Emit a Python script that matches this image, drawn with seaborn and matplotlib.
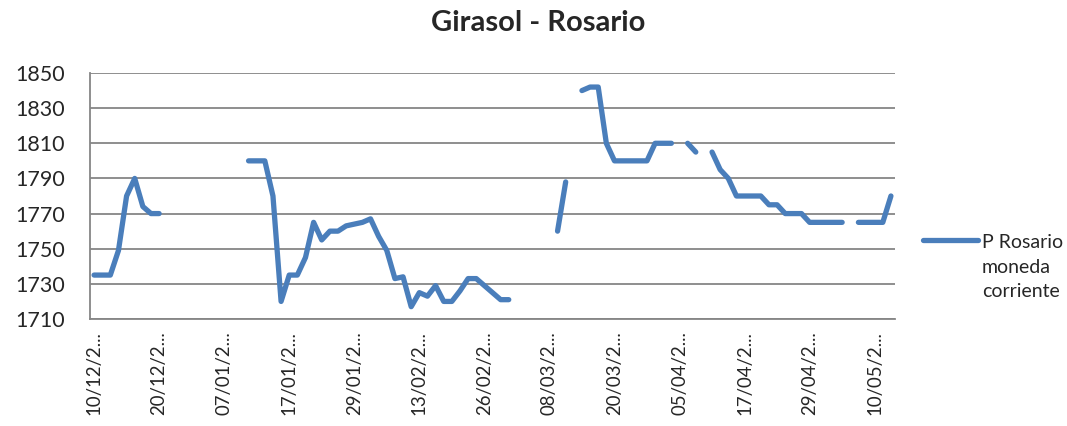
import numpy as np
import pandas as pd
import seaborn as sns
import matplotlib.pyplot as plt
from matplotlib.lines import Line2D

nan = np.nan

# precio diario Rosario, dias sin dato vacios (nan)
precio = [
    1735, 1735, 1735, 1749, 1780, 1790, 1774, 1770, 1770,
    nan, nan, nan, nan, nan, nan, nan, nan, nan, nan,
    1800, 1800, 1800, 1780, 1720, 1735, 1735, 1745, 1765, 1755,
    1760, 1760, 1763, 1764, 1765, 1767, 1757, 1749, 1733, 1734,
    1717, 1725, 1723, 1729, 1720, 1720, 1726, 1733, 1733, 1729,
    1725, 1721, 1721,
    nan, nan, nan, nan, nan,
    1760, 1788, nan,
    1840, 1842, 1842, 1810, 1800, 1800, 1800, 1800, 1800, 1810, 1810, 1810,
    nan, 1810, 1805, nan,
    1805, 1795, 1790, 1780, 1780, 1780, 1780, 1775, 1775, 1770, 1770, 1770,
    1765, 1765, 1765, 1765, 1765,
    nan, 1765, 1765, 1765, 1765, 1780,
]

# etiquetas del eje x (una cada 8 dias), truncadas como en el original
fechas = ["10/12/2...", "20/12/2...", "07/01/2...", "17/01/2...", "29/01/2...",
          "13/02/2...", "26/02/2...", "08/03/2...", "20/03/2...", "05/04/2...",
          "17/04/2...", "29/04/2...", "10/05/2..."]
paso_etiqueta = 8

serie = "P Rosario\nmoneda\ncorriente"
azul = "#4A7EBB"
gris = "#868686"

df = pd.DataFrame({"dia": range(len(precio)), "precio": precio})
df["tramo"] = df["precio"].isna().cumsum()
df = df.dropna()

sns.set_style("white")
plt.rcParams["font.family"] = ["Lato", "DejaVu Sans"]

W, H = 1067, 426
fig = plt.figure(figsize=(W / 100, H / 100), dpi=100)
ax = fig.add_axes([90 / W, 1 - 319 / H, 805 / W, 246 / H])

sns.lineplot(data=df, x="dia", y="precio", units="tramo", estimator=None,
             color=azul, lw=3.8, legend=False, ax=ax)
for ln in ax.lines:
    ln.set_solid_capstyle("round")
    ln.set_solid_joinstyle("round")

ax.set_xlim(-0.5, len(precio) - 0.5)
ax.set_ylim(1710, 1850)
ax.set_yticks(range(1710, 1851, 20))
ax.yaxis.grid(True, color=gris, lw=1.3)
ax.set_axisbelow(True)

ax.set_xticks(range(0, len(precio), paso_etiqueta))
ax.set_xticklabels(fechas, rotation=90)
ax.set_xticks(np.arange(-0.5, len(precio)), minor=True)
ax.tick_params(axis="x", which="major", length=0, pad=9, labelsize=13.4)
ax.tick_params(axis="x", which="minor", direction="out", length=5,
               width=1.2, color=gris)
ax.tick_params(axis="y", direction="out", length=5, width=1.2, color=gris,
               pad=13, labelsize=15.5)
ax.set_xlabel("")
ax.set_ylabel("")

for s in ["top", "right"]:
    ax.spines[s].set_visible(False)
for s in ["left", "bottom"]:
    ax.spines[s].set_color(gris)
    ax.spines[s].set_linewidth(1.3)

fig.text(538 / W, 1 - 23 / H, "Girasol - Rosario", ha="center", va="center",
         fontsize=21, fontweight="bold")

# leyenda
fig.add_artist(Line2D([923 / W, 978 / W], [1 - 240 / H] * 2, color=azul, lw=3.8,
                      solid_capstyle="round"))
fig.text(982 / W, 1 - 234 / H, serie, ha="left", va="top", fontsize=14,
         linespacing=1.55)

fig.savefig("out.png", dpi=100)
